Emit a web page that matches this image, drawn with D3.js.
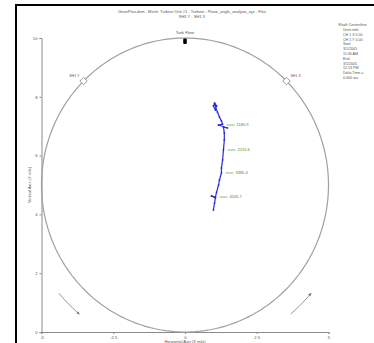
<!DOCTYPE html>
<html>
<head>
<meta charset="utf-8">
<script src="https://cdn.jsdelivr.net/npm/d3@7"></script>
<style>
  html, body { margin: 0; padding: 0; background: #fff; }
  svg { display: block; font-family: "Liberation Sans", Arial, sans-serif; }
</style>
</head>
<body>
<svg id="chart" width="374" height="343"></svg>
<script>
// Shaft centerline orbit inside the bearing clearance circle
const titleLines = ["GenePlan.dvm - Mesh: Turbine Unit #1 - Turbine - Plane_angle_analysis_xyz - Flex", "SH1 Y - SH1 X"];
const xTicks = [-5, -2.5, 0, 2.5, 5];
const yTicks = [0, 2, 4, 6, 8, 10];
const xLabel = "Horizontal Axis (X mils)";
const yLabel = "Vertical Axis (X mils)";

// clearance circle: centre and radius in mils
const clearanceCenter = [0, 5];
const clearanceRadius = 5;

// shaft centre path (mils)
const pathX = [1.03, 1.10, 1.06, 0.99, 1.03, 1.13, 1.20, 1.27, 1.31, 1.17, 1.48, 1.34, 1.37, 1.37, 1.34, 1.31, 1.27, 1.27, 1.20, 1.17, 1.10, 1.06, 0.92, 1.06, 1.03, 0.99];
const pathY = [7.79, 7.69, 7.55, 7.69, 7.76, 7.48, 7.31, 7.18, 7.07, 7.04, 6.94, 6.97, 6.77, 6.53, 6.19, 5.85, 5.58, 5.41, 5.17, 5.00, 4.76, 4.59, 4.63, 4.56, 4.39, 4.15];

// speed annotations along the path
const speedLabels = ["1180.9", "2215.6", "3385.4", "4526.7"];
const speedX = [1.31, 1.34, 1.27, 1.06];
const speedY = [7.04, 6.19, 5.41, 4.59];

// probe orientation markers (degrees from +x axis)
const probeNames = ["SH1 Y", "SH1 X"];
const probeAngles = [135, 45];

// rotation-direction arcs (start/end angle in degrees, radius in mils)
const rotationArcs = [[220, 230], [310, 320]];
const rotationRadius = 5.73;

const legendTitle = "Shaft Centerline";
const legendLines = ["Units mils", "CH 1 X 0.00", "CH 1 Y 0.00", "Start", "3/1/2005", "11:46 AM", "End", "3/1/2005", "12:13 PM", "Delta Time =", "0.000 sec"];

const svg = d3.select("#chart");
const x = d3.scaleLinear().domain([-5, 5]).range([41.5, 328.5]);
const y = d3.scaleLinear().domain([0, 10]).range([332, 38]);

const grey = "#8a8a8a";
const textGrey = "#555";

// outer frame
svg.append("rect")
  .attr("x", 16).attr("y", 5)
  .attr("width", 400).attr("height", 400)
  .attr("fill", "none").attr("stroke", "#000").attr("stroke-width", 2);

// title
svg.selectAll("text.title").data(titleLines).join("text")
  .attr("class", "title")
  .attr("x", 192).attr("y", (d, i) => 13 + i * 5)
  .attr("text-anchor", "middle")
  .attr("font-size", 4).attr("fill", textGrey)
  .text(d => d);

// axes
const yAxis = svg.append("g")
  .attr("transform", `translate(${x(-5)},0)`)
  .call(d3.axisLeft(y).tickValues(yTicks).tickSize(2).tickFormat(d3.format("d")));
const xAxis = svg.append("g")
  .attr("transform", `translate(0,${y(0)})`)
  .call(d3.axisBottom(x).tickValues(xTicks).tickSize(2).tickFormat(d => String(d)));
[xAxis, yAxis].forEach(g => {
  g.select(".domain").attr("stroke", grey).attr("stroke-width", 1);
  g.selectAll(".tick line").attr("stroke", grey);
  g.selectAll(".tick text").attr("font-size", 4.2).attr("fill", textGrey).attr("font-family", "Liberation Sans, Arial, sans-serif");
});
yAxis.selectAll(".tick text").attr("x", -4);
xAxis.selectAll(".tick text").attr("y", 4);

svg.append("text")
  .attr("transform", `translate(31,${y(5)}) rotate(-90)`)
  .attr("text-anchor", "middle")
  .attr("font-size", 4).attr("fill", textGrey)
  .text(yLabel);
svg.append("text")
  .attr("x", x(0)).attr("y", 343)
  .attr("text-anchor", "middle")
  .attr("font-size", 4).attr("fill", textGrey)
  .text(xLabel);

// clearance circle
const toRad = a => a * Math.PI / 180;
const polar = (r, deg) => [clearanceCenter[0] + r * Math.cos(toRad(deg)), clearanceCenter[1] + r * Math.sin(toRad(deg))];
const line = d3.line().x(d => x(d[0])).y(d => y(d[1]));
svg.append("path")
  .attr("d", line(d3.range(0, 361, 2).map(a => polar(clearanceRadius, a))))
  .attr("fill", "none").attr("stroke", "#a0a0a0").attr("stroke-width", 1.2);

// rotation arcs with arrowheads
svg.append("defs").append("marker")
  .attr("id", "arrow").attr("viewBox", "0 0 10 10")
  .attr("refX", 8).attr("refY", 5)
  .attr("markerWidth", 4).attr("markerHeight", 4)
  .attr("orient", "auto")
  .append("path").attr("d", "M0,1 L10,5 L0,9 Z").attr("fill", "#777");
rotationArcs.forEach(([a0, a1]) => {
  svg.append("path")
    .attr("d", line(d3.range(a0, a1 + 0.01, 1).map(a => polar(rotationRadius, a))))
    .attr("fill", "none").attr("stroke", "#888").attr("stroke-width", 0.9)
    .attr("marker-end", "url(#arrow)");
});

// tank floor marker at the top of the circle
const topPt = polar(clearanceRadius, 90);
svg.append("text")
  .attr("x", x(topPt[0])).attr("y", y(topPt[1]) - 4)
  .attr("text-anchor", "middle")
  .attr("font-size", 4).attr("fill", textGrey)
  .text("Tank Floor");
svg.append("rect")
  .attr("x", x(topPt[0]) - 1.8).attr("y", y(topPt[1]) + 0.5)
  .attr("width", 3.6).attr("height", 5.5).attr("rx", 1.2)
  .attr("fill", "#000");

// probe diamonds
probeAngles.forEach((ang, i) => {
  const p = polar(clearanceRadius, ang);
  const px = x(p[0]), py = y(p[1]);
  svg.append("rect")
    .attr("x", -2.6).attr("y", -2.6).attr("width", 5.2).attr("height", 5.2)
    .attr("transform", `translate(${px},${py}) rotate(45)`)
    .attr("fill", "#fff").attr("stroke", "#888").attr("stroke-width", 0.8);
  const onLeft = ang > 90;
  svg.append("text")
    .attr("x", onLeft ? px - 4 : px + 4).attr("y", py - 4)
    .attr("text-anchor", onLeft ? "end" : "start")
    .attr("font-size", 3.6).attr("fill", textGrey)
    .text(probeNames[i]);
});

// shaft centre path
const pts = pathX.map((v, i) => [v, pathY[i]]);
svg.append("path")
  .attr("d", line(pts))
  .attr("fill", "none").attr("stroke", "#2a2ad8").attr("stroke-width", 1.2)
  .attr("stroke-linejoin", "round");
svg.selectAll("circle.pt").data(pts).join("circle")
  .attr("class", "pt")
  .attr("cx", d => x(d[0])).attr("cy", d => y(d[1])).attr("r", 0.9)
  .attr("fill", "#2a2ad8");

// speed annotations
speedLabels.forEach((s, i) => {
  const px = x(speedX[i]), py = y(speedY[i]);
  svg.append("line")
    .attr("x1", px + 4).attr("x2", px + 12).attr("y1", py).attr("y2", py)
    .attr("stroke", "#5a9a5a").attr("stroke-width", 0.7);
  svg.append("text")
    .attr("x", px + 14).attr("y", py + 1.4)
    .attr("font-size", 4).attr("fill", "#3c8a3c")
    .text(s);
});

// legend block
svg.append("text")
  .attr("x", 338).attr("y", 26)
  .attr("font-size", 4).attr("fill", textGrey)
  .text(legendTitle);
svg.selectAll("text.leg").data(legendLines).join("text")
  .attr("class", "leg")
  .attr("x", 343).attr("y", (d, i) => 31 + i * 4.8)
  .attr("font-size", 3.6).attr("fill", textGrey)
  .text(d => d);
</script>
</body>
</html>
